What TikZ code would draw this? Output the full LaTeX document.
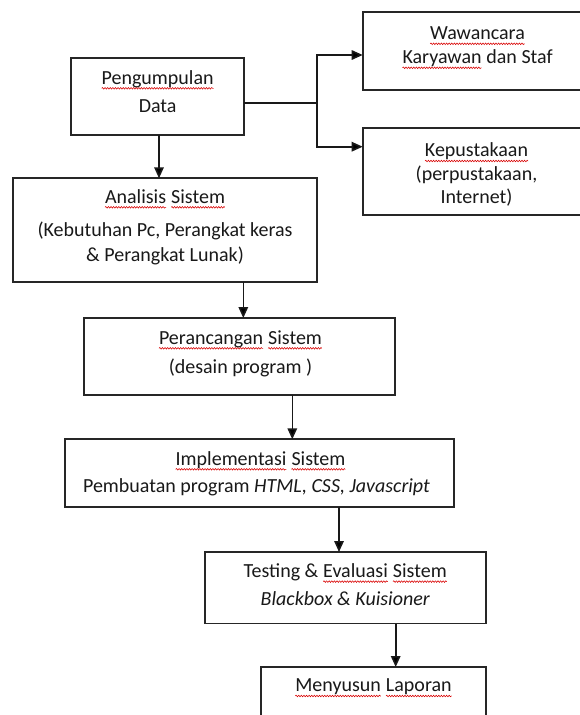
\documentclass[tikz,border=0pt]{standalone}
\usepackage{fontspec}
\setmainfont{Carlito}
\usetikzlibrary{arrows.meta,decorations.pathmorphing}

\tikzset{
  box/.style={draw=black!85, line width=1.8pt, fill=white, inner sep=0pt, outer sep=0pt},
  txt/.style={font=\fontsize{20}{24}\selectfont, text=black!90, inner sep=0pt, anchor=base},
  line/.style={draw=black!90, line width=1.6pt},
  arr/.style={line, -{Triangle[length=11pt,width=9.5pt]}},
  spell/.style={draw=red!85!black, line width=0.55pt, decorate,
    decoration={snake, amplitude=0.8pt, segment length=2.6pt}}
}

% red wavy underline, as a spell checker draws it
\newcommand{\sq}[1]{\tikz[baseline=(sqw.base)]{%
  \node[inner sep=0pt, outer sep=0pt, anchor=base] (sqw) at (0pt,0pt) {#1};
  \draw[spell] ([yshift=-4.3pt]sqw.base west) -- ([yshift=-4.3pt]sqw.base east);}}

\begin{document}
\begin{tikzpicture}[x=1pt, y=-1pt]
\clip (0,0) rectangle (580,715);
\fill[white] (0,0) rectangle (580,715);

% boxes
\node[box, minimum width=173.3pt, minimum height=76.7pt] (pd) at (157.65,96.65) {};
\node[box, minimum width=229.3pt, minimum height=77.7pt] (ww) at (477.35,51.15) {};
\node[box, minimum width=229.3pt, minimum height=87.3pt] (kp) at (477.35,171.35) {};
\node[box, minimum width=304.6pt, minimum height=103.7pt] (an) at (165,230.15) {};
\node[box, minimum width=310.7pt, minimum height=77pt] (pr) at (239.65,356.5) {};
\node[box, minimum width=389pt, minimum height=67.7pt] (im) at (259.5,473.15) {};
\node[box, minimum width=280.7pt, minimum height=71.5pt] (ts) at (345.35,587.75) {};
\node[box, minimum width=224.7pt, minimum height=93pt] (ms) at (373.35,713.5) {};

% texts
\node[txt] (pd1) at (157.65,84) {\sq{Pengumpulan}};
\node[txt] (pd2) at (157.65,112) {Data};

\node[txt] (ww1) at (477.5,39.5) {\sq{Wawancara}};
\node[txt] (ww2) at (477.5,63.5) {\sq{Karyawan} dan Staf};

\node[txt] (kp1) at (476.5,156.7) {\sq{Kepustakaan}};
\node[txt] (kp2) at (476.5,180) {(perpustakaan,};
\node[txt] (kp3) at (476.5,203.3) {Internet)};

\node[txt] (an1) at (165,203) {\sq{Analisis} \sq{Sistem}};
\node[txt] (an2) at (165,236.7) {(Kebutuhan Pc, Perangkat keras};
\node[txt] (an3) at (165,261.7) {\& Perangkat Lunak)};

\node[txt] (pr1) at (240.5,344) {\sq{Perancangan} \sq{Sistem}};
\node[txt] (pr2) at (240.5,373.3) {(desain program )};

\node[txt] (im1) at (260.5,465) {\sq{Implementasi} \sq{Sistem}};
\node[txt] (im2) at (256.5,492) {Pembuatan program \textit{HTML, CSS, Javascript}};

\node[txt] (ts1) at (345.35,577.3) {Testing \& \sq{Evaluasi} \sq{Sistem}};
\node[txt] (ts2) at (345.35,605) {\textit{Blackbox \& Kuisioner}};

\node[txt] (ms1) at (373.5,691.7) {\sq{Menyusun} \sq{Laporan}};

% branch from data collection to the two sources
\coordinate (pdout) at (pd.east |- {(0,102.7)});
\coordinate (jx) at (316.7,102.7);
\coordinate (wwin) at (ww.west |- {(0,55)});
\coordinate (kpin) at (kp.west |- {(0,146.7)});
\draw[line] (pdout) -- (jx);
\draw[arr] (jx) |- (wwin);
\draw[arr] (jx) |- (kpin);

% main flow
\draw[arr] (pd.south -| {(159,0)}) -- (an.north -| {(159,0)});
\draw[arr] (an.south -| {(243.3,0)}) -- (pr.north -| {(243.3,0)});
\draw[arr] (pr.south -| {(292.3,0)}) -- (im.north -| {(292.3,0)});
\draw[arr] (im.south -| {(339,0)}) -- (ts.north -| {(339,0)});
\draw[arr] (ts.south -| {(395.7,0)}) -- (ms.north -| {(395.7,0)});
\end{tikzpicture}
\end{document}
